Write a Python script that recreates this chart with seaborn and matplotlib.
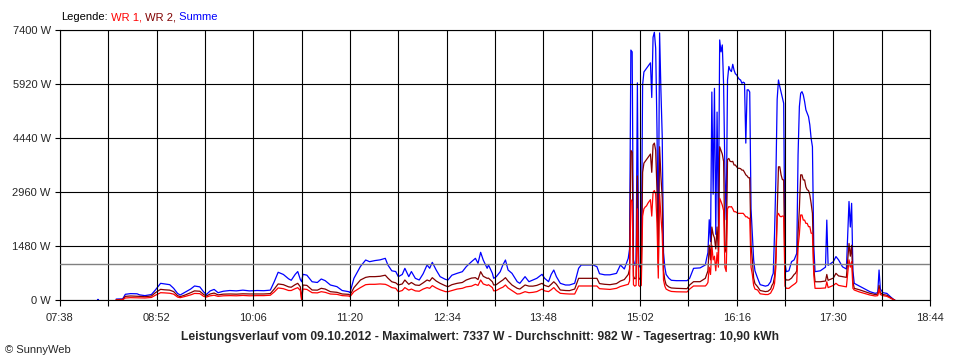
import matplotlib
matplotlib.use("Agg")
import matplotlib.pyplot as plt
import pandas as pd
import seaborn as sns

# sample times (HH:MM) and power readings in W
times = [
    "08:21", "08:26", "08:28", "08:32", "08:37", "08:39", "08:43", "08:48", "08:51", "08:55",
    "08:58", "09:02", "09:05", "09:08", "09:10", "09:14", "09:18", "09:21", "09:25", "09:28",
    "09:30", "09:33", "09:36", "09:39", "09:43", "09:48", "09:53", "09:58", "10:03", "10:09",
    "10:14", "10:19", "10:22", "10:25", "10:29", "10:33", "10:35", "10:38", "10:40", "10:42",
    "10:43", "10:44", "10:47", "10:51", "10:55", "10:58", "11:01", "11:05", "11:10", "11:14",
    "11:19", "11:20", "11:23", "11:28", "11:32", "11:35", "11:39", "11:43", "11:47", "11:49",
    "11:52", "11:55", "11:57", "12:00", "12:02", "12:05", "12:07", "12:10", "12:13", "12:16",
    "12:19", "12:21", "12:23", "12:26", "12:29", "12:33", "12:35", "12:38", "12:42", "12:46",
    "12:49", "12:53", "12:56", "12:58", "13:00", "13:02", "13:05", "13:06", "13:09", "13:10",
    "13:12", "13:15", "13:17", "13:19", "13:21", "13:24", "13:28", "13:30", "13:34", "13:37",
    "13:40", "13:43", "13:47", "13:49", "13:52", "13:54", "13:56", "13:58", "14:01", "14:05",
    "14:08", "14:12", "14:15", "14:17", "14:26", "14:29", "14:31", "14:35", "14:39", "14:44",
    "14:47", "14:50", "14:53",
    "14:54", "14:55", "14:56", "14:57", "14:58", "14:59", "15:00", "15:01", "15:02", "15:03",
    "15:04", "15:05", "15:06", "15:07", "15:08", "15:09", "15:10", "15:11", "15:12", "15:13",
    "15:14", "15:15", "15:16", "15:17", "15:18", "15:19", "15:20", "15:21", "15:22", "15:24",
    "15:26", "15:30", "15:38", "15:40", "15:43", "15:48", "15:52", "15:53",
    "15:54", "15:55", "15:56", "15:57", "15:58", "15:59", "16:00", "16:01", "16:02", "16:03",
    "16:04", "16:05", "16:06", "16:07", "16:08", "16:09", "16:10", "16:11", "16:12", "16:13",
    "16:14", "16:15", "16:16", "16:17", "16:18", "16:19", "16:20", "16:21", "16:22", "16:23",
    "16:24", "16:25", "16:26", "16:27", "16:28", "16:29", "16:30", "16:32", "16:34", "16:38",
    "16:40", "16:42", "16:43", "16:44", "16:45", "16:46", "16:47", "16:48", "16:49", "16:50",
    "16:51", "16:52", "16:53", "16:54", "16:56", "16:58", "17:00", "17:01", "17:02", "17:03",
    "17:04", "17:05", "17:06", "17:07", "17:08", "17:09", "17:10", "17:11", "17:12", "17:13",
    "17:14", "17:15", "17:16", "17:20", "17:24", "17:25", "17:26", "17:30", "17:32", "17:34",
    "17:37", "17:40", "17:42", "17:43", "17:44", "17:45", "17:46", "17:50", "17:54", "17:58",
    "18:02", "18:04", "18:05", "18:06", "18:08", "18:11", "18:14", "18:16", "18:17",
]

summe = [
    25, 30, 156, 175, 170, 140, 120, 150, 274, 457,
    440, 420, 320, 180, 137, 220, 300, 384, 360, 220,
    150, 250, 290, 200, 240, 260, 250, 270, 250, 260,
    255, 270, 500, 760, 700, 580, 540, 700, 780, 560,
    500, 704, 680, 500, 480, 576, 530, 411, 366, 260,
    228, 200, 594, 920, 1096, 1050, 1080, 1100, 1142, 960,
    800, 780, 640, 700, 868, 640, 780, 594, 548, 720,
    960, 870, 1032, 820, 640, 566, 548, 680, 731, 776,
    914, 1050, 1142, 1005, 1307, 1096, 868, 960, 731, 594,
    640, 776, 960, 1096, 822, 731, 502, 457, 640, 502,
    548, 594, 704, 594, 502, 700, 822, 640, 457, 411,
    411, 457, 868, 960, 960, 914, 720, 690, 690, 730,
    960, 850, 1142,
    1400, 6850, 6800, 1100, 950, 1000, 5950, 1000, 900, 1000,
    5900, 6250, 6300, 6350, 6400, 6450, 6500, 5550, 7200, 7337,
    6900, 4700, 1500, 7320, 5760, 4500, 1300, 900, 700, 600,
    540, 530, 530, 594, 868, 880, 960, 1142,
    1300, 2200, 1600, 5700, 2900, 5800, 1800, 5150, 2000, 7127,
    6800, 6990, 5900, 3500, 2200, 6030, 6400, 6300, 6260, 6460,
    6300, 6200, 6170, 6100, 6050, 6030, 5940, 5970, 5950, 4300,
    5760, 5760, 5700, 2500, 1800, 1100, 800, 600, 420, 380,
    400, 500, 640, 730, 1830, 3290, 5500, 6030, 5850, 5700,
    5550, 5390, 1000, 777, 800, 1050, 1100, 1190, 1280, 3975,
    5300, 5665, 5710, 5620, 5440, 5210, 5120, 5025, 4800, 4430,
    4200, 1500, 777, 800, 900, 2190, 950, 1050, 1190, 1100,
    910, 850, 2700, 2000, 2650, 800, 457, 380, 300, 228,
    183, 200, 822, 300, 200, 180, 80, 20, 0,
]

wr2 = [
    10, 15, 100, 110, 105, 100, 90, 110, 200, 292,
    280, 270, 230, 120, 91, 140, 200, 250, 240, 150,
    110, 165, 190, 140, 160, 165, 160, 170, 165, 165,
    165, 175, 300, 440, 420, 360, 350, 420, 457, 360,
    0, 411, 400, 274, 270, 320, 300, 228, 210, 165,
    155, 130, 338, 548, 620, 640, 640, 650, 680, 600,
    500, 470, 411, 440, 548, 430, 480, 411, 400, 470,
    548, 520, 612, 520, 457, 390, 365, 420, 457, 480,
    548, 600, 612, 560, 776, 650, 594, 600, 500, 411,
    420, 500, 548, 612, 520, 411, 320, 300, 411, 380,
    380, 400, 457, 400, 365, 430, 500, 430, 274, 260,
    257, 300, 594, 594, 594, 594, 450, 430, 420, 450,
    520, 560, 700,
    850, 4100, 4050, 650, 580, 600, 3400, 620, 560, 600,
    3500, 3750, 3800, 3850, 3900, 3950, 4000, 3500, 4250, 4300,
    4100, 3000, 900, 4200, 3400, 2800, 800, 550, 420, 360,
    330, 320, 310, 411, 502, 502, 594, 700,
    800, 1500, 1100, 2000, 1800, 1700, 1400, 2000, 1300, 4200,
    4100, 4000, 3800, 1400, 1300, 3850, 3880, 3800, 3790, 3800,
    3700, 3700, 3650, 3610, 3610, 3600, 3560, 3560, 3500, 3430,
    3400, 3350, 3350, 1500, 1100, 600, 450, 365, 260, 230,
    240, 300, 400, 457, 640, 1200, 2375, 3650, 3650, 3430,
    3300, 3290, 600, 548, 548, 600, 700, 731, 800, 1830,
    2500, 3430, 3430, 3290, 3290, 3100, 3020, 3000, 2880, 2650,
    2375, 900, 500, 500, 520, 700, 540, 600, 731, 660,
    640, 620, 1550, 1200, 1500, 500, 320, 280, 230, 183,
    150, 160, 400, 200, 150, 130, 60, 15, 0,
]

wr1 = [
    5, 10, 55, 64, 60, 60, 55, 70, 130, 200,
    195, 185, 160, 80, 64, 100, 140, 180, 175, 100,
    80, 115, 130, 100, 115, 120, 115, 125, 115, 120,
    120, 130, 220, 330, 310, 260, 260, 310, 338, 260,
    0, 301, 290, 200, 195, 228, 210, 164, 155, 120,
    110, 90, 228, 340, 420, 430, 430, 440, 430, 400,
    340, 320, 228, 260, 340, 270, 300, 250, 240, 300,
    340, 320, 394, 330, 280, 230, 228, 260, 300, 320,
    360, 380, 430, 400, 548, 440, 400, 420, 340, 250,
    260, 320, 350, 411, 330, 260, 164, 170, 228, 200,
    210, 230, 301, 250, 230, 280, 340, 260, 183, 170,
    164, 164, 384, 384, 384, 384, 310, 300, 290, 320,
    370, 400, 430,
    520, 2750, 2700, 420, 380, 400, 2500, 400, 370, 400,
    2300, 2500, 2550, 2580, 2650, 2700, 2750, 2300, 2950, 3000,
    2900, 2100, 600, 2900, 2300, 1800, 550, 380, 300, 260,
    235, 225, 220, 300, 384, 384, 384, 420,
    480, 900, 700, 1500, 1100, 1200, 800, 1300, 900, 2790,
    2700, 2600, 2450, 900, 780, 2500, 2560, 2550, 2560, 2500,
    2420, 2420, 2400, 2375, 2375, 2375, 2375, 2375, 2330, 2280,
    2280, 2240, 2240, 900, 700, 400, 300, 274, 170, 150,
    150, 190, 260, 320, 457, 900, 2300, 2375, 2300, 2280,
    2300, 2300, 380, 320, 320, 380, 430, 457, 500, 1460,
    1800, 2330, 2330, 2190, 2190, 2100, 2100, 2010, 2010, 1830,
    1830, 700, 320, 320, 330, 500, 340, 400, 457, 400,
    380, 360, 1100, 900, 1050, 320, 274, 220, 180, 137,
    110, 120, 300, 150, 120, 100, 45, 10, 0,
]

# lone early reading
dot_times = ["08:06", "08:07"]
dot_summe = [30, 30]

x_ticks = ["07:38", "08:52", "10:06", "11:20", "12:34", "13:48", "15:02", "16:16", "17:30", "18:44"]
y_ticks = [0, 1480, 2960, 4440, 5920, 7400]
avg_w = 982
title = ("Leistungsverlauf vom 09.10.2012 - Maximalwert: 7337 W - "
         "Durchschnitt: 982 W - Tagesertrag: 10,90 kWh")

RED = "#ff0000"
DARKRED = "#800000"
BLUE = "#0000ff"


def to_min(hhmm):
    h, m = hhmm.split(":")
    return int(h) * 60 + int(m)


sns.set_style("ticks")
plt.rcParams["font.family"] = ["Liberation Sans", "DejaVu Sans"]
plt.rcParams["font.size"] = 8

df = pd.DataFrame({
    "t": [to_min(s) for s in times],
    "WR 1": wr1,
    "WR 2": wr2,
    "Summe": summe,
})

fig = plt.figure(figsize=(9.6, 3.6), dpi=100)
ax = fig.add_axes([60 / 960, 60 / 360, 870 / 960, 270 / 360])

sns.lineplot(x=[to_min(s) for s in dot_times], y=dot_summe, color=BLUE, lw=0.9, ax=ax)
sns.lineplot(data=df, x="t", y="Summe", color=BLUE, lw=0.9, estimator=None, ax=ax)
sns.lineplot(data=df, x="t", y="WR 2", color=DARKRED, lw=0.9, estimator=None, ax=ax)
sns.lineplot(data=df, x="t", y="WR 1", color=RED, lw=0.9, estimator=None, ax=ax)

ax.axhline(avg_w, color="#808080", lw=1.0, zorder=3)

xt = [to_min(s) for s in x_ticks]
ax.set_xlim(xt[0], xt[-1])
ax.set_ylim(y_ticks[0], y_ticks[-1])
ax.set_xticks(xt, labels=x_ticks)
ax.set_xticks([(a + b) / 2 for a, b in zip(xt[:-1], xt[1:])], minor=True)
ax.set_yticks(y_ticks, labels=[f"{v} W" for v in y_ticks])
ax.set_xlabel("")
ax.set_ylabel("")

ax.set_axisbelow(False)
ax.grid(True, which="both", axis="x", color="black", lw=0.8)
ax.grid(True, which="major", axis="y", color="black", lw=0.8)
for sp in ax.spines.values():
    sp.set_visible(True)
    sp.set_color("black")
    sp.set_linewidth(0.8)

ax.tick_params(axis="x", which="both", direction="out", length=4.3, width=0.8,
               color="black", pad=5, labelsize=8, bottom=True)
ax.tick_params(axis="y", which="major", direction="out", length=3.6, width=0.8,
               color="black", pad=3, labelsize=8, left=True)

# coloured legend line at the top
leg0 = fig.text(61 / 960, 340 / 360, "Legende:", color="black", fontsize=8, va="baseline")
leg1 = ax.annotate(" WR 1,", xy=(1, 0), xycoords=leg0, va="bottom", ha="left",
                   color=RED, fontsize=8, annotation_clip=False)
leg2 = ax.annotate(" WR 2,", xy=(1, 0), xycoords=leg1, va="bottom", ha="left",
                   color=DARKRED, fontsize=8, annotation_clip=False)
ax.annotate(" Summe", xy=(1, 0), xycoords=leg2, va="bottom", ha="left",
            color=BLUE, fontsize=8, annotation_clip=False)

fig.text(480 / 960, 23 / 360, title, ha="center", va="center", fontsize=8.7, fontweight="bold")
fig.text(5 / 960, 10 / 360, "\u00a9 SunnyWeb", ha="left", va="center", fontsize=8)

fig.savefig("out.png", dpi=100)
